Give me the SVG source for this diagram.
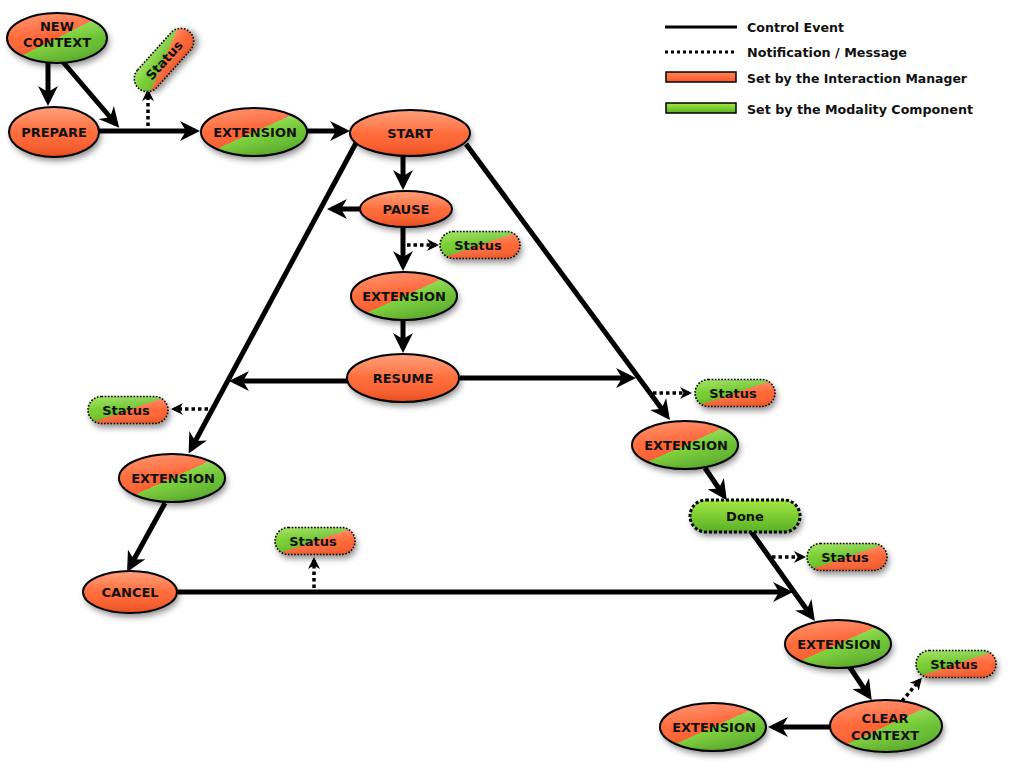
<svg xmlns="http://www.w3.org/2000/svg" width="1024" height="768" viewBox="0 0 1024 768">
<defs>
<style>
.t{font-family:"DejaVu Sans","Liberation Sans",Arial,sans-serif;font-weight:bold;font-size:13px;text-anchor:middle;fill:#111}
.lg{font-family:"DejaVu Sans","Liberation Sans",Arial,sans-serif;font-weight:bold;font-size:12.5px;fill:#111}
.split{fill:url(#gSplit)}
.org{fill:url(#gOrange)}
.shade{fill:url(#gShade);stroke:#000;stroke-width:2}
.st{fill:url(#gStatus)}
.stb{fill:url(#gShade);stroke:#000;stroke-width:1.6;stroke-dasharray:1.6 1.6}
.ce{fill:none;stroke:#000;stroke-width:5;marker-end:url(#ah)}
.nm{fill:none;stroke:#000;stroke-width:3.5;stroke-dasharray:3.5 3;marker-end:url(#ahs)}
</style>
<linearGradient id="gSplit" x1="0" y1="0" x2="1" y2="1">
<stop offset="0" stop-color="#FF7C4C"/><stop offset="0.5" stop-color="#FF6030"/>
<stop offset="0.5" stop-color="#80D33A"/><stop offset="1" stop-color="#4FA828"/>
</linearGradient>
<linearGradient id="gStatus" x1="0" y1="0" x2="1" y2="1">
<stop offset="0" stop-color="#8EDD3C"/><stop offset="0.5" stop-color="#6CC42C"/>
<stop offset="0.5" stop-color="#FF7040"/><stop offset="1" stop-color="#FF5A28"/>
</linearGradient>
<linearGradient id="gOrange" x1="0" y1="0" x2="0" y2="1">
<stop offset="0" stop-color="#FF8658"/><stop offset="1" stop-color="#FF5522"/>
</linearGradient>
<linearGradient id="gGreen" x1="0" y1="0" x2="0" y2="1">
<stop offset="0" stop-color="#A4E842"/><stop offset="1" stop-color="#58B026"/>
</linearGradient>
<linearGradient id="gShade" x1="0" y1="0" x2="0" y2="1">
<stop offset="0" stop-color="#fff" stop-opacity="0.22"/><stop offset="0.5" stop-color="#fff" stop-opacity="0"/>
<stop offset="1" stop-color="#000" stop-opacity="0.1"/>
</linearGradient>
<filter id="sh" x="-30%" y="-30%" width="160%" height="180%">
<feDropShadow dx="2" dy="4" stdDeviation="3" flood-color="#000" flood-opacity="0.45"/>
</filter>
<marker id="ah" viewBox="0 0 20 20" markerWidth="20" markerHeight="20" refX="15" refY="10" orient="auto" markerUnits="userSpaceOnUse">
<path d="M20,10 L0,0 L6,10 L0,20 Z" fill="#000"/>
</marker>
<marker id="ahs" viewBox="0 0 20 20" markerWidth="12" markerHeight="12" refX="15" refY="10" orient="auto" markerUnits="userSpaceOnUse">
<path d="M20,10 L0,0 L6,10 L0,20 Z" fill="#000"/>
</marker>
</defs>
<rect width="1024" height="768" fill="#fff"/>

<g id="legend">
<line x1="665" y1="27" x2="737" y2="27" stroke="#000" stroke-width="3"/>
<text class="lg" x="747" y="32" textLength="97" lengthAdjust="spacingAndGlyphs">Control Event</text>
<line x1="665" y1="52" x2="737" y2="52" stroke="#000" stroke-width="3" stroke-dasharray="3 3"/>
<text class="lg" x="747" y="57" textLength="160" lengthAdjust="spacingAndGlyphs">Notification / Message</text>
<rect x="666" y="72" width="70" height="10" fill="url(#gOrange)" stroke="#000" stroke-width="1.5"/>
<text class="lg" x="747" y="83" textLength="220" lengthAdjust="spacingAndGlyphs">Set by the Interaction Manager</text>
<rect x="666" y="103" width="70" height="10" fill="url(#gGreen)" stroke="#000" stroke-width="1.5"/>
<text class="lg" x="747" y="114" textLength="226" lengthAdjust="spacingAndGlyphs">Set by the Modality Component</text>
</g>

<g id="connectors">
<path class="ce" d="M48,63 L48,101"/>
<path class="ce" d="M63,62 L116,124"/>
<path class="ce" d="M99,131 L195,131"/>
<path class="nm" d="M148,126 L148,92"/>
<path class="ce" d="M307,131 L345,131"/>
<path class="ce" d="M403,156 L403,185"/>
<path class="ce" d="M360,209 L332,209"/>
<path class="nm" d="M407,245 L436,245"/>
<path class="ce" d="M403,226 L403,266"/>
<path class="ce" d="M403,320 L403,348"/>
<path class="ce" d="M347,381 L234,381"/>
<path class="ce" d="M460,378 L631,378"/>
<path class="ce" d="M356,143 L191,449"/>
<path class="nm" d="M208,409 L174,409"/>
<path class="ce" d="M165,503 L129.5,567.5"/>
<path class="ce" d="M178,592 L788,592"/>
<path class="nm" d="M314,588 L314,560"/>
<path class="ce" d="M466,144 L667,416"/>
<path class="nm" d="M653,393 L689,393"/>
<path class="ce" d="M705,468 L724,496"/>
<path class="ce" d="M750,530 L812,617"/>
<path class="nm" d="M772,557 L803,557"/>
<path class="ce" d="M849,666 L869,696"/>
<path class="nm" d="M902,701 L920,680"/>
<path class="ce" d="M830,727 L773,727"/>
</g>

<g id="n-newcontext">
<ellipse class="split" cx="57" cy="38" rx="50" ry="25" filter="url(#sh)"/>
<ellipse class="shade" cx="57" cy="38" rx="50" ry="25"/>
<text class="t" x="57" y="31">NEW</text>
<text class="t" x="57" y="47">CONTEXT</text>
</g>
<g id="n-prepare">
<ellipse class="org" cx="54" cy="132" rx="45" ry="25" filter="url(#sh)"/>
<ellipse class="shade" cx="54" cy="132" rx="45" ry="25"/>
<text class="t" x="54" y="137">PREPARE</text>
</g>
<g id="s-status1" transform="translate(164,60) rotate(-48)">
<rect class="st" x="-38" y="-13" width="76" height="26" rx="13" filter="url(#sh)"/>
<rect class="stb" x="-38" y="-13" width="76" height="26" rx="13"/>
<text class="t" x="0" y="5">Status</text>
</g>
<g id="n-ext1">
<ellipse class="split" cx="254" cy="132" rx="53" ry="24" filter="url(#sh)"/>
<ellipse class="shade" cx="254" cy="132" rx="53" ry="24"/>
<text class="t" x="255" y="137">EXTENSION</text>
</g>
<g id="n-start">
<ellipse class="org" cx="410" cy="133" rx="60" ry="23" filter="url(#sh)"/>
<ellipse class="shade" cx="410" cy="133" rx="60" ry="23"/>
<text class="t" x="410" y="138">START</text>
</g>
<g id="n-pause">
<ellipse class="org" cx="406" cy="209" rx="46" ry="18" filter="url(#sh)"/>
<ellipse class="shade" cx="406" cy="209" rx="46" ry="18"/>
<text class="t" x="406" y="214">PAUSE</text>
</g>
<g id="s-status2">
<rect class="st" x="440" y="231.5" width="80" height="27" rx="13.5" filter="url(#sh)"/>
<rect class="stb" x="440" y="231.5" width="80" height="27" rx="13.5"/>
<text class="t" x="478" y="250">Status</text>
</g>
<g id="n-ext2">
<ellipse class="split" cx="404" cy="296" rx="53" ry="24" filter="url(#sh)"/>
<ellipse class="shade" cx="404" cy="296" rx="53" ry="24"/>
<text class="t" x="404" y="301">EXTENSION</text>
</g>
<g id="n-resume">
<ellipse class="org" cx="403" cy="378" rx="56" ry="24" filter="url(#sh)"/>
<ellipse class="shade" cx="403" cy="378" rx="56" ry="24"/>
<text class="t" x="403" y="383">RESUME</text>
</g>
<g id="s-status3">
<rect class="st" x="88" y="396.5" width="80" height="27" rx="13.5" filter="url(#sh)"/>
<rect class="stb" x="88" y="396.5" width="80" height="27" rx="13.5"/>
<text class="t" x="126" y="415">Status</text>
</g>
<g id="n-ext3">
<ellipse class="split" cx="172" cy="478" rx="53" ry="24" filter="url(#sh)"/>
<ellipse class="shade" cx="172" cy="478" rx="53" ry="24"/>
<text class="t" x="173" y="483">EXTENSION</text>
</g>
<g id="n-cancel">
<ellipse class="org" cx="130" cy="592" rx="47" ry="21" filter="url(#sh)"/>
<ellipse class="shade" cx="130" cy="592" rx="47" ry="21"/>
<text class="t" x="130" y="597">CANCEL</text>
</g>
<g id="s-status4">
<rect class="st" x="275" y="527.5" width="80" height="27" rx="13.5" filter="url(#sh)"/>
<rect class="stb" x="275" y="527.5" width="80" height="27" rx="13.5"/>
<text class="t" x="313" y="546">Status</text>
</g>
<g id="s-status5">
<rect class="st" x="695" y="379.5" width="80" height="27" rx="13.5" filter="url(#sh)"/>
<rect class="stb" x="695" y="379.5" width="80" height="27" rx="13.5"/>
<text class="t" x="733" y="398">Status</text>
</g>
<g id="n-ext4">
<ellipse class="split" cx="685" cy="445" rx="53" ry="24" filter="url(#sh)"/>
<ellipse class="shade" cx="685" cy="445" rx="53" ry="24"/>
<text class="t" x="686" y="450">EXTENSION</text>
</g>
<g id="n-done">
<rect x="690" y="500" width="110" height="32" rx="16" fill="url(#gGreen)" filter="url(#sh)"/>
<rect x="690" y="500" width="110" height="32" rx="16" fill="none" stroke="#000" stroke-width="3" stroke-dasharray="3 2"/>
<text class="t" x="745" y="521">Done</text>
</g>
<g id="s-status6">
<rect class="st" x="807" y="543.5" width="80" height="27" rx="13.5" filter="url(#sh)"/>
<rect class="stb" x="807" y="543.5" width="80" height="27" rx="13.5"/>
<text class="t" x="845" y="562">Status</text>
</g>
<g id="n-ext5">
<ellipse class="split" cx="838" cy="644" rx="53" ry="24" filter="url(#sh)"/>
<ellipse class="shade" cx="838" cy="644" rx="53" ry="24"/>
<text class="t" x="839" y="649">EXTENSION</text>
</g>
<g id="s-status7">
<rect class="st" x="916" y="650.5" width="80" height="27" rx="13.5" filter="url(#sh)"/>
<rect class="stb" x="916" y="650.5" width="80" height="27" rx="13.5"/>
<text class="t" x="954" y="669">Status</text>
</g>
<g id="n-clearcontext">
<ellipse class="split" cx="886" cy="726" rx="56" ry="26" filter="url(#sh)"/>
<ellipse class="shade" cx="886" cy="726" rx="56" ry="26"/>
<text class="t" x="885" y="723">CLEAR</text>
<text class="t" x="885" y="740">CONTEXT</text>
</g>
<g id="n-ext6">
<ellipse class="split" cx="713" cy="727" rx="53" ry="24" filter="url(#sh)"/>
<ellipse class="shade" cx="713" cy="727" rx="53" ry="24"/>
<text class="t" x="714" y="732">EXTENSION</text>
</g>
</svg>
